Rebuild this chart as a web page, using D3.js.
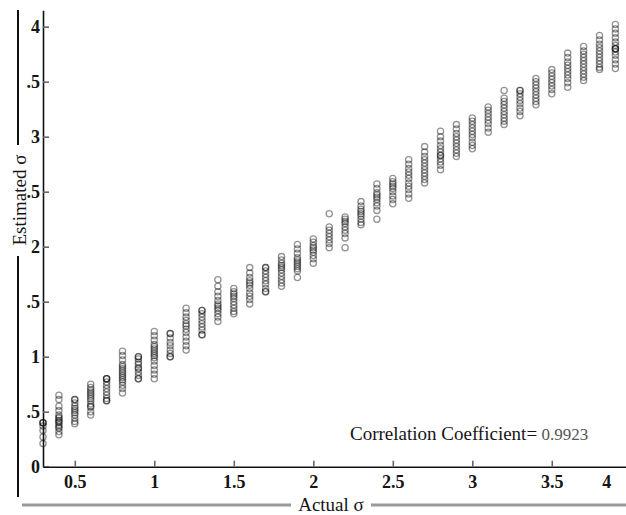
<!DOCTYPE html>
<html>
<head>
<meta charset="utf-8">
<script src="https://cdn.jsdelivr.net/npm/d3@7"></script>
<style>
  body { margin: 0; background: #fff; }
  svg { display: block; }
  text { font-family: "Liberation Serif", "Times New Roman", serif; }
</style>
</head>
<body>
<div id="chart"></div>
<script>
// actual sigma for each column of runs
const actual = [0.3, 0.4, 0.5, 0.6, 0.7, 0.8, 0.9, 1.0, 1.1, 1.2, 1.3, 1.4, 1.5, 1.6, 1.7, 1.8, 1.9,
    2.0, 2.1, 2.2, 2.3, 2.4, 2.5, 2.6, 2.7, 2.8, 2.9, 3.0, 3.1, 3.2, 3.3, 3.4, 3.5, 3.6, 3.7, 3.8, 3.9];

// estimated sigma per run, one list per actual value
const estimated = [
    [0.40, 0.40, 0.40, 0.37, 0.33, 0.27, 0.21],
    [0.65, 0.61, 0.55, 0.51, 0.47, 0.45, 0.44, 0.42, 0.41, 0.40, 0.38, 0.36, 0.35, 0.32, 0.29],
    [0.61, 0.61, 0.58, 0.55, 0.53, 0.51, 0.49, 0.47, 0.44, 0.41, 0.39],
    [0.75, 0.72, 0.70, 0.68, 0.66, 0.64, 0.62, 0.60, 0.57, 0.55, 0.54, 0.50, 0.47],
    [0.80, 0.80, 0.80, 0.77, 0.74, 0.71, 0.68, 0.65, 0.62, 0.60, 0.60],
    [1.05, 1.01, 0.97, 0.93, 0.91, 0.89, 0.87, 0.85, 0.83, 0.81, 0.79, 0.77, 0.74, 0.71, 0.67],
    [1.00, 1.00, 0.98, 0.95, 0.93, 0.90, 0.89, 0.86, 0.83, 0.80, 0.80],
    [1.23, 1.19, 1.15, 1.11, 1.09, 1.07, 1.05, 1.03, 1.01, 0.99, 0.96, 0.92, 0.88, 0.84, 0.80],
    [1.21, 1.21, 1.17, 1.13, 1.10, 1.06, 1.03, 1.00, 1.00],
    [1.44, 1.40, 1.36, 1.33, 1.30, 1.28, 1.25, 1.22, 1.18, 1.14, 1.10, 1.06],
    [1.42, 1.42, 1.39, 1.36, 1.33, 1.30, 1.27, 1.24, 1.20, 1.20],
    [1.70, 1.64, 1.59, 1.55, 1.51, 1.48, 1.46, 1.44, 1.42, 1.39, 1.36, 1.32],
    [1.62, 1.59, 1.57, 1.55, 1.53, 1.50, 1.47, 1.44, 1.41, 1.39],
    [1.81, 1.76, 1.72, 1.69, 1.67, 1.65, 1.62, 1.58, 1.55, 1.52, 1.48],
    [1.81, 1.81, 1.78, 1.75, 1.72, 1.69, 1.66, 1.62, 1.59, 1.59],
    [1.91, 1.88, 1.85, 1.83, 1.81, 1.79, 1.76, 1.73, 1.70, 1.67, 1.64],
    [2.02, 1.98, 1.94, 1.90, 1.88, 1.86, 1.84, 1.82, 1.80, 1.78, 1.72],
    [2.07, 2.04, 2.01, 1.99, 1.97, 1.95, 1.92, 1.89, 1.85],
    [2.30, 2.18, 2.15, 2.12, 2.09, 2.06, 2.03, 1.99],
    [2.27, 2.25, 2.23, 2.21, 2.18, 2.15, 2.12, 2.08, 1.99],
    [2.41, 2.37, 2.34, 2.32, 2.30, 2.28, 2.25, 2.22, 2.20],
    [2.57, 2.53, 2.49, 2.47, 2.45, 2.43, 2.40, 2.37, 2.33, 2.25],
    [2.62, 2.59, 2.57, 2.55, 2.53, 2.50, 2.46, 2.43, 2.39],
    [2.79, 2.75, 2.71, 2.68, 2.65, 2.62, 2.58, 2.55, 2.52, 2.48, 2.44],
    [2.91, 2.86, 2.82, 2.79, 2.76, 2.73, 2.70, 2.67, 2.64, 2.61, 2.58],
    [3.05, 3.00, 2.96, 2.92, 2.89, 2.86, 2.83, 2.83, 2.80, 2.77, 2.74, 2.70],
    [3.11, 3.07, 3.03, 3.00, 2.97, 2.94, 2.91, 2.88, 2.85, 2.82],
    [3.17, 3.14, 3.11, 3.08, 3.05, 3.02, 2.99, 2.95, 2.92, 2.89],
    [3.27, 3.24, 3.21, 3.18, 3.15, 3.12, 3.08, 3.04],
    [3.42, 3.35, 3.32, 3.29, 3.26, 3.23, 3.20, 3.17, 3.14, 3.11],
    [3.42, 3.42, 3.39, 3.36, 3.33, 3.30, 3.26, 3.23, 3.19],
    [3.53, 3.50, 3.47, 3.44, 3.41, 3.38, 3.35, 3.32, 3.29],
    [3.61, 3.58, 3.55, 3.52, 3.49, 3.46, 3.43, 3.39],
    [3.76, 3.72, 3.68, 3.65, 3.62, 3.59, 3.56, 3.53, 3.49, 3.45],
    [3.82, 3.78, 3.75, 3.72, 3.69, 3.66, 3.63, 3.60, 3.57, 3.54, 3.51],
    [3.92, 3.88, 3.84, 3.81, 3.78, 3.75, 3.72, 3.69, 3.66, 3.63, 3.61],
    [4.02, 3.98, 3.94, 3.90, 3.86, 3.83, 3.80, 3.80, 3.80, 3.77, 3.74, 3.70, 3.66, 3.62]
];

const xTicks = [0.5, 1, 1.5, 2, 2.5, 3, 3.5, 4];
const xTickLabels = ["0.5", "1", "1.5", "2", "2.5", "3", "3.5", "4"];
const yTicks = [0, 0.5, 1, 1.5, 2, 2.5, 3, 3.5, 4];
const yTickLabels = ["0", ".5", "1", ".5", "2", ".5", "3", ".5", "4"];
const correlation = 0.9923;

const width = 626;
const height = 515;

const x = d3.scaleLinear().domain([0.3, 4.0]).range([43, 631.3]);
const y = d3.scaleLinear().domain([0, 4.15]).range([466.7, 10.2]);

const svg = d3.select("#chart").append("svg")
    .attr("width", width)
    .attr("height", height);

// flatten into points
const points = actual.flatMap((a, i) => estimated[i].map(e => ({a: a, e: e})));

svg.append("g")
    .attr("fill", "none")
    .attr("stroke", "#000")
    .attr("stroke-opacity", 0.42)
    .attr("stroke-width", 1.3)
    .selectAll("circle")
    .data(points)
    .join("circle")
    .attr("cx", d => x(d.a))
    .attr("cy", d => y(d.e))
    .attr("r", 3.1);

// y axis
const yAxis = svg.append("g")
    .attr("transform", `translate(${x(0.3)},0)`)
    .call(d3.axisLeft(y)
        .tickValues(yTicks)
        .tickFormat((d, i) => yTickLabels[i])
        .tickSizeInner(-6)
        .tickSizeOuter(0)
        .tickPadding(3));

// x axis
const xAxis = svg.append("g")
    .attr("transform", `translate(0,${y(0)})`)
    .call(d3.axisBottom(x)
        .tickValues(xTicks)
        .tickFormat((d, i) => xTickLabels[i])
        .tickSizeInner(-6)
        .tickSizeOuter(0)
        .tickPadding(9));

[xAxis, yAxis].forEach(g => {
    g.select(".domain").attr("stroke", "#111").attr("stroke-width", 1.6);
    g.selectAll(".tick line").attr("stroke", "#666").attr("stroke-width", 1.6);
    g.selectAll(".tick text")
        .attr("fill", "#151515")
        .style("font-size", "18px")
        .style("font-weight", "bold")
        .style("font-family", "'Liberation Serif', serif");
});

// the last x label sits inside the crop
xAxis.selectAll(".tick")
    .filter(d => d === 4)
    .select("text")
    .attr("dx", -25);

// correlation note
const note = svg.append("text")
    .attr("x", 350)
    .attr("y", 440)
    .attr("fill", "#151515")
    .style("font-size", "19px");
note.append("tspan").text("Correlation Coefficient=");
note.append("tspan")
    .attr("fill", "#555")
    .style("font-size", "17px")
    .text(" " + correlation);

// y title with rule broken around it
svg.append("line")
    .attr("x1", 18).attr("x2", 18)
    .attr("y1", 10).attr("y2", 145)
    .attr("stroke", "#111").attr("stroke-width", 2);
svg.append("line")
    .attr("x1", 18).attr("x2", 18)
    .attr("y1", 256).attr("y2", 497)
    .attr("stroke", "#111").attr("stroke-width", 2);
svg.append("text")
    .attr("transform", "translate(26,200) rotate(-90)")
    .attr("text-anchor", "middle")
    .attr("fill", "#151515")
    .style("font-size", "19px")
    .text("Estimated σ");

// x title with rule broken around it
svg.append("line")
    .attr("x1", 22).attr("x2", 291)
    .attr("y1", 505).attr("y2", 505)
    .attr("stroke", "#999").attr("stroke-width", 3);
svg.append("line")
    .attr("x1", 371).attr("x2", width)
    .attr("y1", 505).attr("y2", 505)
    .attr("stroke", "#999").attr("stroke-width", 3);
svg.append("text")
    .attr("x", 331)
    .attr("y", 511)
    .attr("text-anchor", "middle")
    .attr("fill", "#151515")
    .style("font-size", "19px")
    .text("Actual σ");
</script>
</body>
</html>
